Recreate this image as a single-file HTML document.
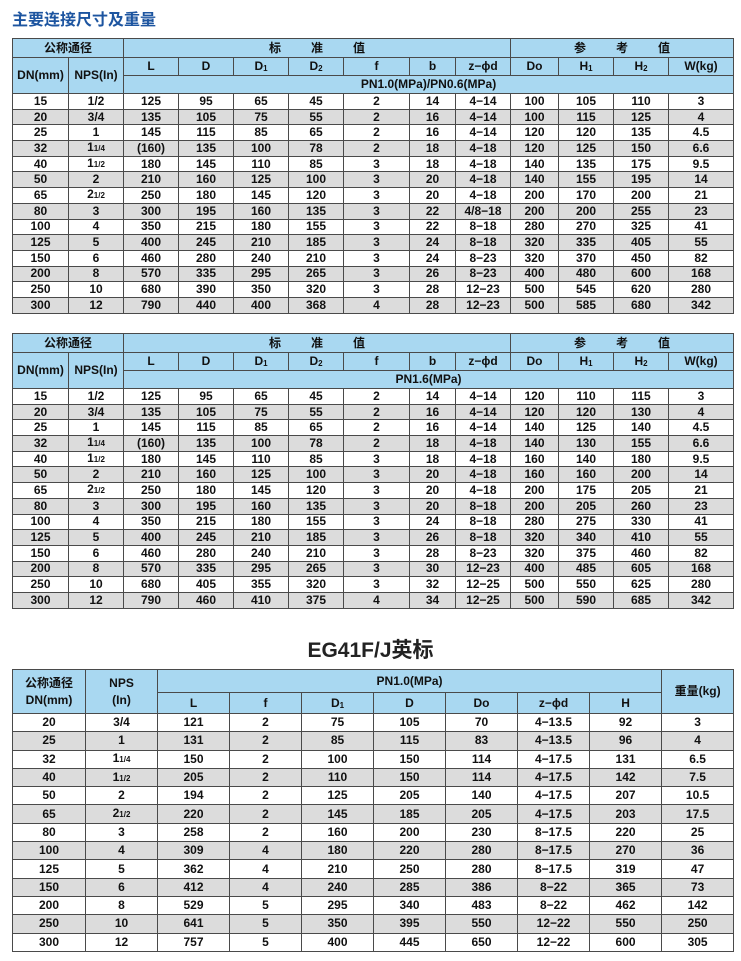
<!DOCTYPE html>
<html><head><meta charset="utf-8">
<style>
body{margin:0;background:#fff;width:741px;height:961px;position:relative;overflow:hidden;font-family:"Liberation Sans","Noto Sans CJK SC",sans-serif;}
.t{position:absolute;border-collapse:collapse;table-layout:fixed;font-size:12px;font-weight:bold;color:#111;}
.t td{border:1px solid #4a4a4a;text-align:center;padding:0;white-space:nowrap;overflow:hidden;line-height:13px;}
.t .h td,.t td.h{background:#a9d8f1;}
.t tr.g td{background:#dcdcdc;}
sub{font-size:8px;vertical-align:-1px;line-height:0;}
.fr{font-size:8px;}
#t1 tr.d,#t2 tr.d{height:15.7px;}
#t3 tr.d{height:18.3px;}
</style></head><body>
<div style="position:absolute;left:12px;top:6px;font-size:16px;font-weight:bold;color:#1d55a0;font-family:'Liberation Sans','Noto Sans CJK SC',sans-serif;">主要连接尺寸及重量</div>

<table class="t" id="t1" style="left:12px;top:38px;width:721px;">
<colgroup><col style="width:56px"><col style="width:55px"><col style="width:55px"><col style="width:55px"><col style="width:55px"><col style="width:55px"><col style="width:66px"><col style="width:46px"><col style="width:55px"><col style="width:48px"><col style="width:55px"><col style="width:55px"><col style="width:65px"></colgroup>
<tr class="h" style="height:19px"><td colspan="2">公称通径</td><td colspan="7">标 &nbsp; &nbsp; &nbsp; &nbsp; 准 &nbsp; &nbsp; &nbsp; &nbsp; 值</td><td colspan="4">参 &nbsp; &nbsp; &nbsp; &nbsp; 考 &nbsp; &nbsp; &nbsp; &nbsp; 值</td></tr>
<tr class="h" style="height:18px"><td rowspan="2">DN(mm)</td><td rowspan="2">NPS(In)</td><td>L</td><td>D</td><td>D<sub>1</sub></td><td>D<sub>2</sub></td><td>f</td><td>b</td><td>z−ϕd</td><td>Do</td><td>H<sub>1</sub></td><td>H<sub>2</sub></td><td>W(kg)</td></tr>
<tr class="h" style="height:18px"><td colspan="11">PN1.0(MPa)/PN0.6(MPa)</td></tr>
<tr class="d"><td>15</td><td>1/2</td><td>125</td><td>95</td><td>65</td><td>45</td><td>2</td><td>14</td><td>4−14</td><td>100</td><td>105</td><td>110</td><td>3</td></tr>
<tr class="d g"><td>20</td><td>3/4</td><td>135</td><td>105</td><td>75</td><td>55</td><td>2</td><td>16</td><td>4−14</td><td>100</td><td>115</td><td>125</td><td>4</td></tr>
<tr class="d"><td>25</td><td>1</td><td>145</td><td>115</td><td>85</td><td>65</td><td>2</td><td>16</td><td>4−14</td><td>120</td><td>120</td><td>135</td><td>4.5</td></tr>
<tr class="d g"><td>32</td><td>1<span class="fr">1/4</span></td><td>(160)</td><td>135</td><td>100</td><td>78</td><td>2</td><td>18</td><td>4−18</td><td>120</td><td>125</td><td>150</td><td>6.6</td></tr>
<tr class="d"><td>40</td><td>1<span class="fr">1/2</span></td><td>180</td><td>145</td><td>110</td><td>85</td><td>3</td><td>18</td><td>4−18</td><td>140</td><td>135</td><td>175</td><td>9.5</td></tr>
<tr class="d g"><td>50</td><td>2</td><td>210</td><td>160</td><td>125</td><td>100</td><td>3</td><td>20</td><td>4−18</td><td>140</td><td>155</td><td>195</td><td>14</td></tr>
<tr class="d"><td>65</td><td>2<span class="fr">1/2</span></td><td>250</td><td>180</td><td>145</td><td>120</td><td>3</td><td>20</td><td>4−18</td><td>200</td><td>170</td><td>200</td><td>21</td></tr>
<tr class="d g"><td>80</td><td>3</td><td>300</td><td>195</td><td>160</td><td>135</td><td>3</td><td>22</td><td>4/8−18</td><td>200</td><td>200</td><td>255</td><td>23</td></tr>
<tr class="d"><td>100</td><td>4</td><td>350</td><td>215</td><td>180</td><td>155</td><td>3</td><td>22</td><td>8−18</td><td>280</td><td>270</td><td>325</td><td>41</td></tr>
<tr class="d g"><td>125</td><td>5</td><td>400</td><td>245</td><td>210</td><td>185</td><td>3</td><td>24</td><td>8−18</td><td>320</td><td>335</td><td>405</td><td>55</td></tr>
<tr class="d"><td>150</td><td>6</td><td>460</td><td>280</td><td>240</td><td>210</td><td>3</td><td>24</td><td>8−23</td><td>320</td><td>370</td><td>450</td><td>82</td></tr>
<tr class="d g"><td>200</td><td>8</td><td>570</td><td>335</td><td>295</td><td>265</td><td>3</td><td>26</td><td>8−23</td><td>400</td><td>480</td><td>600</td><td>168</td></tr>
<tr class="d"><td>250</td><td>10</td><td>680</td><td>390</td><td>350</td><td>320</td><td>3</td><td>28</td><td>12−23</td><td>500</td><td>545</td><td>620</td><td>280</td></tr>
<tr class="d g"><td>300</td><td>12</td><td>790</td><td>440</td><td>400</td><td>368</td><td>4</td><td>28</td><td>12−23</td><td>500</td><td>585</td><td>680</td><td>342</td></tr>
</table>

<table class="t" id="t2" style="left:12px;top:333px;width:721px;">
<colgroup><col style="width:56px"><col style="width:55px"><col style="width:55px"><col style="width:55px"><col style="width:55px"><col style="width:55px"><col style="width:66px"><col style="width:46px"><col style="width:55px"><col style="width:48px"><col style="width:55px"><col style="width:55px"><col style="width:65px"></colgroup>
<tr class="h" style="height:19px"><td colspan="2">公称通径</td><td colspan="7">标 &nbsp; &nbsp; &nbsp; &nbsp; 准 &nbsp; &nbsp; &nbsp; &nbsp; 值</td><td colspan="4">参 &nbsp; &nbsp; &nbsp; &nbsp; 考 &nbsp; &nbsp; &nbsp; &nbsp; 值</td></tr>
<tr class="h" style="height:18px"><td rowspan="2">DN(mm)</td><td rowspan="2">NPS(In)</td><td>L</td><td>D</td><td>D<sub>1</sub></td><td>D<sub>2</sub></td><td>f</td><td>b</td><td>z−ϕd</td><td>Do</td><td>H<sub>1</sub></td><td>H<sub>2</sub></td><td>W(kg)</td></tr>
<tr class="h" style="height:18px"><td colspan="11">PN1.6(MPa)</td></tr>
<tr class="d"><td>15</td><td>1/2</td><td>125</td><td>95</td><td>65</td><td>45</td><td>2</td><td>14</td><td>4−14</td><td>120</td><td>110</td><td>115</td><td>3</td></tr>
<tr class="d g"><td>20</td><td>3/4</td><td>135</td><td>105</td><td>75</td><td>55</td><td>2</td><td>16</td><td>4−14</td><td>120</td><td>120</td><td>130</td><td>4</td></tr>
<tr class="d"><td>25</td><td>1</td><td>145</td><td>115</td><td>85</td><td>65</td><td>2</td><td>16</td><td>4−14</td><td>140</td><td>125</td><td>140</td><td>4.5</td></tr>
<tr class="d g"><td>32</td><td>1<span class="fr">1/4</span></td><td>(160)</td><td>135</td><td>100</td><td>78</td><td>2</td><td>18</td><td>4−18</td><td>140</td><td>130</td><td>155</td><td>6.6</td></tr>
<tr class="d"><td>40</td><td>1<span class="fr">1/2</span></td><td>180</td><td>145</td><td>110</td><td>85</td><td>3</td><td>18</td><td>4−18</td><td>160</td><td>140</td><td>180</td><td>9.5</td></tr>
<tr class="d g"><td>50</td><td>2</td><td>210</td><td>160</td><td>125</td><td>100</td><td>3</td><td>20</td><td>4−18</td><td>160</td><td>160</td><td>200</td><td>14</td></tr>
<tr class="d"><td>65</td><td>2<span class="fr">1/2</span></td><td>250</td><td>180</td><td>145</td><td>120</td><td>3</td><td>20</td><td>4−18</td><td>200</td><td>175</td><td>205</td><td>21</td></tr>
<tr class="d g"><td>80</td><td>3</td><td>300</td><td>195</td><td>160</td><td>135</td><td>3</td><td>20</td><td>8−18</td><td>200</td><td>205</td><td>260</td><td>23</td></tr>
<tr class="d"><td>100</td><td>4</td><td>350</td><td>215</td><td>180</td><td>155</td><td>3</td><td>24</td><td>8−18</td><td>280</td><td>275</td><td>330</td><td>41</td></tr>
<tr class="d g"><td>125</td><td>5</td><td>400</td><td>245</td><td>210</td><td>185</td><td>3</td><td>26</td><td>8−18</td><td>320</td><td>340</td><td>410</td><td>55</td></tr>
<tr class="d"><td>150</td><td>6</td><td>460</td><td>280</td><td>240</td><td>210</td><td>3</td><td>28</td><td>8−23</td><td>320</td><td>375</td><td>460</td><td>82</td></tr>
<tr class="d g"><td>200</td><td>8</td><td>570</td><td>335</td><td>295</td><td>265</td><td>3</td><td>30</td><td>12−23</td><td>400</td><td>485</td><td>605</td><td>168</td></tr>
<tr class="d"><td>250</td><td>10</td><td>680</td><td>405</td><td>355</td><td>320</td><td>3</td><td>32</td><td>12−25</td><td>500</td><td>550</td><td>625</td><td>280</td></tr>
<tr class="d g"><td>300</td><td>12</td><td>790</td><td>460</td><td>410</td><td>375</td><td>4</td><td>34</td><td>12−25</td><td>500</td><td>590</td><td>685</td><td>342</td></tr>
</table>

<div style="position:absolute;left:0;width:741px;top:634px;text-align:center;font-size:21px;font-weight:bold;color:#222;">EG41F/J英标</div>

<table class="t" id="t3" style="left:12px;top:669px;width:721px;">
<colgroup><col style="width:73px"><col style="width:72px"><col style="width:72px"><col style="width:72px"><col style="width:72px"><col style="width:72px"><col style="width:72px"><col style="width:72px"><col style="width:72px"><col style="width:72px"></colgroup>
<tr class="h" style="height:23px"><td rowspan="2" style="line-height:17px">公称通径<br>DN(mm)</td><td rowspan="2" style="line-height:17px">NPS<br>(In)</td><td colspan="7">PN1.0(MPa)</td><td rowspan="2">重量(kg)</td></tr>
<tr class="h" style="height:21px"><td>L</td><td>f</td><td>D<sub>1</sub></td><td>D</td><td>Do</td><td>z−ϕd</td><td>H</td></tr>
<tr class="d"><td>20</td><td>3/4</td><td>121</td><td>2</td><td>75</td><td>105</td><td>70</td><td>4−13.5</td><td>92</td><td>3</td></tr>
<tr class="d g"><td>25</td><td>1</td><td>131</td><td>2</td><td>85</td><td>115</td><td>83</td><td>4−13.5</td><td>96</td><td>4</td></tr>
<tr class="d"><td>32</td><td>1<span class="fr">1/4</span></td><td>150</td><td>2</td><td>100</td><td>150</td><td>114</td><td>4−17.5</td><td>131</td><td>6.5</td></tr>
<tr class="d g"><td>40</td><td>1<span class="fr">1/2</span></td><td>205</td><td>2</td><td>110</td><td>150</td><td>114</td><td>4−17.5</td><td>142</td><td>7.5</td></tr>
<tr class="d"><td>50</td><td>2</td><td>194</td><td>2</td><td>125</td><td>205</td><td>140</td><td>4−17.5</td><td>207</td><td>10.5</td></tr>
<tr class="d g"><td>65</td><td>2<span class="fr">1/2</span></td><td>220</td><td>2</td><td>145</td><td>185</td><td>205</td><td>4−17.5</td><td>203</td><td>17.5</td></tr>
<tr class="d"><td>80</td><td>3</td><td>258</td><td>2</td><td>160</td><td>200</td><td>230</td><td>8−17.5</td><td>220</td><td>25</td></tr>
<tr class="d g"><td>100</td><td>4</td><td>309</td><td>4</td><td>180</td><td>220</td><td>280</td><td>8−17.5</td><td>270</td><td>36</td></tr>
<tr class="d"><td>125</td><td>5</td><td>362</td><td>4</td><td>210</td><td>250</td><td>280</td><td>8−17.5</td><td>319</td><td>47</td></tr>
<tr class="d g"><td>150</td><td>6</td><td>412</td><td>4</td><td>240</td><td>285</td><td>386</td><td>8−22</td><td>365</td><td>73</td></tr>
<tr class="d"><td>200</td><td>8</td><td>529</td><td>5</td><td>295</td><td>340</td><td>483</td><td>8−22</td><td>462</td><td>142</td></tr>
<tr class="d g"><td>250</td><td>10</td><td>641</td><td>5</td><td>350</td><td>395</td><td>550</td><td>12−22</td><td>550</td><td>250</td></tr>
<tr class="d"><td>300</td><td>12</td><td>757</td><td>5</td><td>400</td><td>445</td><td>650</td><td>12−22</td><td>600</td><td>305</td></tr>
</table>
</body></html>
